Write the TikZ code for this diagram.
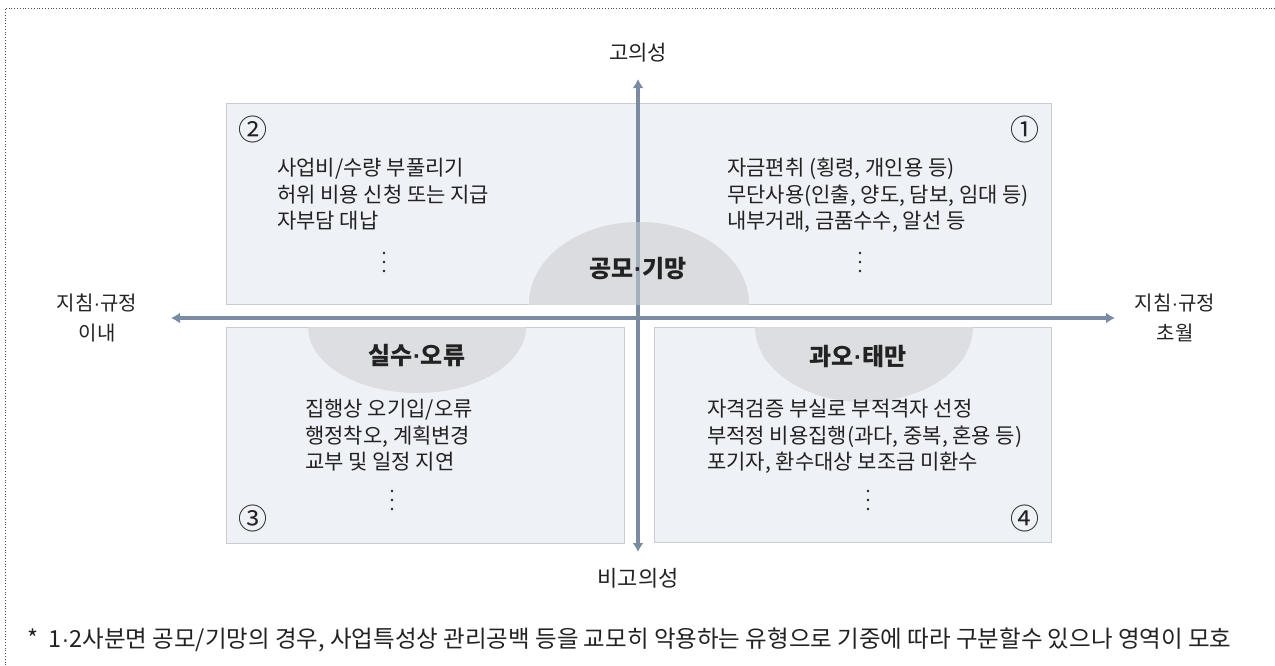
\documentclass[tikz,border=0pt]{standalone}
\usepackage{fontspec}
\setmainfont{Noto Sans CJK KR}
\newfontfamily\dotfont{Liberation Sans}
\newcommand{\md}{{\dotfont\char"00B7}}
\usetikzlibrary{arrows.meta}
\definecolor{boxfill}{HTML}{EEF1F5}
\definecolor{boxline}{HTML}{C8CCD2}
\definecolor{semi}{HTML}{D9DBDF}
\definecolor{axis}{HTML}{7A8BA2}
\definecolor{txt}{HTML}{222222}
\tikzset{
  quad/.style={draw=boxline, fill=boxfill, line width=0.8pt},
  semiarc/.style={fill=semi, opacity=0.85},
  axisline/.style={draw=axis, line width=3.5pt, -{Latex[length=9pt,width=11pt]}},
  body/.style={font=\fontsize{21}{26.5}\selectfont, text=txt, align=left, anchor=north west, inner sep=0pt},
  title/.style={font=\fontsize{24}{26}\selectfont\bfseries, text=txt, inner sep=0pt},
  axlabel/.style={font=\fontsize{21}{30}\selectfont, text=txt, align=center, inner sep=0pt},
  num/.style={font=\fontsize{29}{30}\selectfont, text=txt, inner sep=0pt}
}
\begin{document}
\begin{tikzpicture}[x=1pt,y=-1pt]
\useasboundingbox (0,0) rectangle (1275,665);
% border
\draw[dotted, line width=0.8pt, black!70] (1275,8) -- (5,8) -- (5,665);
% boxes
\node[quad, minimum width=825pt, minimum height=201pt, anchor=north west, inner sep=0pt] (top) at (226,103) {};
\node[quad, minimum width=398pt, minimum height=216pt, anchor=north west, inner sep=0pt] (q3) at (226,327) {};
\node[quad, minimum width=397pt, minimum height=215pt, anchor=north west, inner sep=0pt] (q4) at (654,327) {};
% semicircles
\begin{scope}
\clip (top.south west) rectangle (top.north east);
\fill[semiarc] (639,304) ellipse [x radius=110, y radius=82];
\end{scope}
\begin{scope}
\clip (q3.south west) rectangle (q3.north east);
\fill[semiarc] (417,327) ellipse [x radius=109, y radius=66];
\end{scope}
\begin{scope}
\clip (q4.south west) rectangle (q4.north east);
\fill[semiarc] (864,327) ellipse [x radius=109, y radius=75];
\end{scope}
% axes
\coordinate (vtop) at (638,79);
\coordinate (vbot) at (638,552);
\coordinate (hl) at (171,318);
\coordinate (hr) at (1115,318);
\coordinate (ctr) at (638,318);
\draw[axisline] (ctr) -- (vtop);
\draw[axisline] (ctr) -- (vbot);
\draw[axisline] (ctr) -- (hl);
\draw[axisline] (ctr) -- (hr);
% re-paint semicircle over axis top part
\begin{scope}
\clip (top.south west) rectangle (top.north east);
\fill[semi, opacity=0.45] (639,304) ellipse [x radius=110, y radius=82];
\end{scope}
% axis labels
\node[axlabel] (hi) at (638,53) {고의성};
\node[axlabel, font=\fontsize{22}{30}\selectfont] (lo) at (638,578) {비고의성};
\node[axlabel, font=\fontsize{20}{30}\selectfont] (inn) at (97,318) {지침\md 규정\\이내};
\node[axlabel, font=\fontsize{20}{30}\selectfont] (out) at (1175,318) {지침\md 규정\\초월};
% numbers
\node[num] (n2) at (253,129) {②};
\node[num] (n1) at (1025,129) {①};
\node[num] (n3) at (253,518) {③};
\node[num] (n4) at (1025,518) {④};
% titles
\node[title] (t1) at (638,269) {공모\md 기망};
\node[title] (t3) at (417,356) {실수\md 오류};
\node[title] (t4) at (858,356) {과오\md 태만};
% body texts
\node[body] (b2) at (277,158) {사업비/수량 부풀리기\\허위 비용 신청 또는 지급\\자부담 대납};
\node[body] (b1) at (727,158) {자금편취 (횡령, 개인용 등)\\무단사용(인출, 양도, 담보, 임대 등)\\내부거래, 금품수수, 알선 등};
\node[body] (b3) at (305,399) {집행상 오기입/오류\\행정착오, 계획변경\\교부 및 일정 지연};
\node[body] (b4) at (707,399) {자격검증 부실로 부적격자 선정\\부적정 비용집행(과다, 중복, 혼용 등)\\포기자, 환수대상 보조금 미환수};
% dots
\foreach \n/\x/\y in {d2/384/262, d1/860/262, d3/392/500, d4/868/500}{
  \node[inner sep=0pt] (\n) at (\x,\y) {};
  \fill[txt] (\x,\y-9) circle (1.3pt) (\x,\y) circle (1.3pt) (\x,\y+9) circle (1.3pt);
}
% footnote
\node[font=\fontsize{23.5}{26}\selectfont, text=txt, anchor=west, inner sep=0pt] (foot) at (27,640) {*\ \ 1\md 2사분면 공모/기망의 경우, 사업특성상 관리공백 등을 교모히 악용하는 유형으로 기중에 따라 구분할수 있으나 영역이 모호};
\end{tikzpicture}
\end{document}
